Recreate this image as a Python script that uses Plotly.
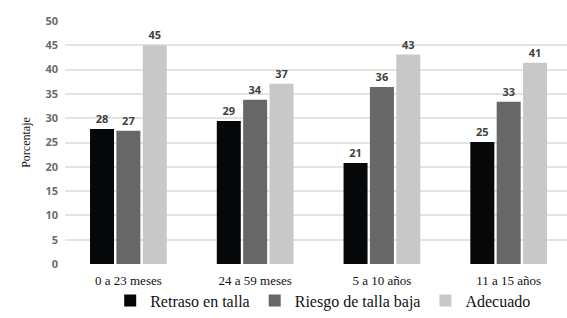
import plotly.graph_objects as go

categories = ["0 a 23 meses", "24 a 59 meses", "5 a 10 años", "11 a 15 años"]
retraso = [27.8, 29.4, 20.8, 25.1]
riesgo = [27.4, 33.8, 36.4, 33.4]
adecuado = [45.0, 37.1, 43.1, 41.4]
series_names = ["Retraso en talla", "Riesgo de talla baja", "Adecuado"]
colors = ["#050708", "#676767", "#c8c8c8"]
y_ticks = [0, 5, 10, 15, 20, 25, 30, 35, 40, 45, 50]

fig = go.Figure()
for name, vals, col in zip(series_names, [retraso, riesgo, adecuado], colors):
    fig.add_trace(go.Bar(
        x=list(range(len(categories))), y=vals, name=name,
        marker=dict(color=col, line=dict(width=0)),
        text=[f"{round(v)}" for v in vals], textposition="outside",
        textfont=dict(family="Open Sans", size=11, color="#404040", weight="bold"),
        cliponaxis=False,
    ))

fig.update_layout(
    width=567, height=318,
    margin=dict(l=65, r=0, t=21, b=54, autoexpand=False),
    paper_bgcolor="white", plot_bgcolor="white",
    barmode="group", bargap=0.376, bargroupgap=0.09,
    showlegend=True,
    legend=dict(orientation="h", x=0.57, xanchor="center", xref="container",
                y=0.055, yanchor="middle", yref="container",
                bgcolor="rgba(0,0,0,0)",
                font=dict(family="Liberation Serif", size=16, color="#111111"),
                itemwidth=30, tracegroupgap=0, traceorder="normal"),
    xaxis=dict(tickmode="array", tickvals=list(range(len(categories))), ticktext=categories,
               range=[-0.5, 3.46], showgrid=False, zeroline=False, showline=False,
               ticklabelstandoff=7,
               tickfont=dict(family="Liberation Serif", size=13, color="#111111")),
    yaxis=dict(range=[0, 50], tickvals=y_ticks, showgrid=True, gridcolor="#e3e3e3", gridwidth=1.5,
               zeroline=False, showline=False,
               tickfont=dict(family="Open Sans", size=11, color="#6b6b6b", weight="bold"),
               ticklabelstandoff=6,
               title=dict(text="Porcentaje", font=dict(family="Liberation Serif", size=12, color="#111111"),
                          standoff=12)),
)
fig.write_html("out.html")
